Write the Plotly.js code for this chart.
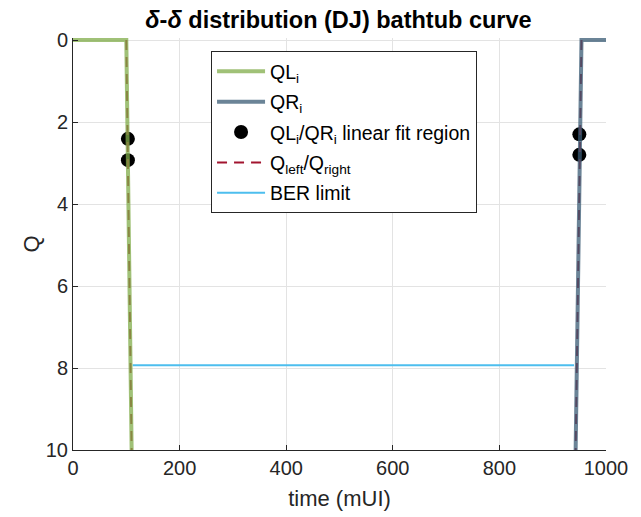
<!DOCTYPE html>
<html>
<head>
<meta charset="utf-8">
<script src="https://cdn.plot.ly/plotly-3.0.1.min.js"></script>
<style>html,body{margin:0;padding:0;background:#fff}#chart{width:641px;height:517px}</style>
</head>
<body>
<div id="chart"></div>
<script>
// Left / right bathtub edges (time in mUI, Q value)
const qlTime = [0, 100, 110.5];
const qlQ = [0, 0, 10.5];
const qrTime = [1000, 954, 942.5];
const qrQ = [0, 0, 10.5];

// Points used for the linear fit on each side
const fitTime = [103, 103, 950, 950];
const fitQ = [2.41, 2.93, 2.30, 2.80];

// Extrapolated Q_left / Q_right lines
const qLeftTime = [100, 110.5];
const qLeftQ = [0, 10.5];
const qRightTime = [954, 942.5];
const qRightQ = [0, 10.5];

// BER limit level between the two edges
const berTime = [112, 940];
const berQ = [7.93, 7.93];

const font = 'Liberation Sans, Arial, sans-serif';
const fitDash = {color: '#A2142F', width: 2, dash: '10px,7px'};

// Fit points and dashed fits go underneath; the translucent measured
// curves are drawn over them. legendrank keeps the legend order,
// one legend group per entry so tracegroupgap spaces the rows.
const traces = [
  {x: fitTime, y: fitQ, mode: 'markers', name: 'QL<sub>i</sub>/QR<sub>i</sub> linear fit region',
   legendrank: 3, legendgroup: 'pts', marker: {color: '#000', size: 14}},
  {x: qLeftTime, y: qLeftQ, mode: 'lines', name: 'Q<sub>left</sub>/Q<sub>right</sub>',
   legendrank: 4, legendgroup: 'fit', line: fitDash},
  {x: qRightTime, y: qRightQ, mode: 'lines', name: 'Q<sub>right</sub>', showlegend: false,
   legendrank: 4, legendgroup: 'fit', line: fitDash},
  {x: berTime, y: berQ, mode: 'lines', name: 'BER limit',
   legendrank: 5, legendgroup: 'ber', line: {color: '#4DBEEE', width: 2}},
  {x: qlTime, y: qlQ, mode: 'lines', name: 'QL<sub>i</sub>',
   legendrank: 1, legendgroup: 'ql', line: {color: 'rgba(128,172,73,0.75)', width: 4}},
  {x: qrTime, y: qrQ, mode: 'lines', name: 'QR<sub>i</sub>',
   legendrank: 2, legendgroup: 'qr', line: {color: 'rgba(57,91,116,0.75)', width: 4}}
];

const layout = {
  width: 641, height: 517,
  margin: {l: 73, r: 35, t: 38, b: 67},
  paper_bgcolor: '#fff', plot_bgcolor: '#fff',
  font: {family: font, size: 20, color: '#262626'},
  title: {text: '<b><i>δ</i>-<i>δ</i> distribution (DJ) bathtub curve</b>',
          font: {family: font, size: 23.5, color: '#000'},
          x: 0.528, xanchor: 'center', y: 0.962, yanchor: 'middle', xref: 'container'},
  xaxis: {range: [0, 1000], tickvals: [0, 200, 400, 600, 800, 1000],
          ticks: 'inside', ticklen: 5, tickcolor: '#262626',
          showgrid: true, gridcolor: '#E3E3E3', zeroline: false,
          showline: true, linecolor: '#262626', linewidth: 1,
          title: {text: 'time (mUI)', standoff: 12, font: {size: 22}}},
  yaxis: {range: [10, -0.05], tickvals: [0, 2, 4, 6, 8, 10],
          ticks: 'inside', ticklen: 5, tickcolor: '#262626',
          showgrid: true, gridcolor: '#E3E3E3', zeroline: false,
          showline: true, linecolor: '#262626', linewidth: 1,
          title: {text: 'Q', standoff: 0, font: {size: 22}}},
  showlegend: true,
  legend: {x: 0.259, y: 0.968, xanchor: 'left', yanchor: 'top',
           traceorder: 'grouped',
           bgcolor: '#fff', bordercolor: '#262626', borderwidth: 1,
           itemwidth: 48,
           font: {family: font, size: 19.5, color: '#000'}, tracegroupgap: 2}
};

Plotly.newPlot('chart', traces, layout, {staticPlot: true, displayModeBar: false});
</script>
</body>
</html>
